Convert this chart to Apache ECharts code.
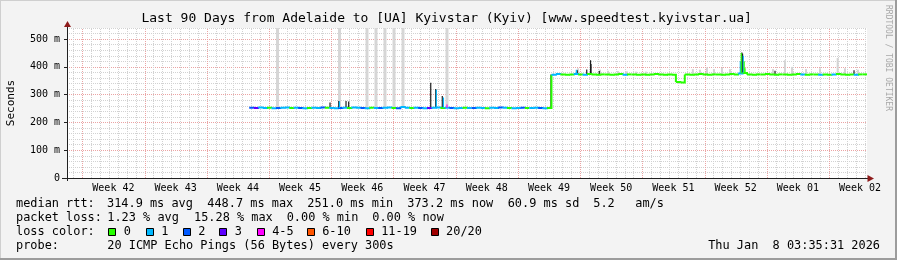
<!DOCTYPE html>
<html>
<head>
<meta charset="utf-8">
<script src="https://cdn.jsdelivr.net/npm/echarts@6/dist/echarts.min.js"></script>
<style>
html,body{margin:0;padding:0;background:#f3f3f3;}
#c{width:897px;height:260px;}
</style>
</head>
<body>
<div id="c"></div>
<script>
// ---------------- data ----------------
const titleText = 'Last 90 Days from Adelaide to [UA] Kyivstar (Kyiv) [www.speedtest.kyivstar.ua]';
const yAxisName = 'Seconds';
const weekLabels = ['Week 42','Week 43','Week 44','Week 45','Week 46','Week 47','Week 48','Week 49','Week 50','Week 51','Week 52','Week 01','Week 02'];
const firstWeekLineDay = 1.72;        // day (from left edge) of first week line
const xMaxDays = 90;
const yMaxMs = 540;
const yTickValues = [0, 100, 200, 300, 400, 500];

const medianStartDay = 20.5;
const medianStepDays = 0.5;
const median = [
  253,252,254,252,253,251,252,253,254,252,
  253,252,251,252,253,252,254,253,252,251,
  252,253,252,254,253,252,251,253,252,252,
  253,254,252,251,256,253,252,253,252,251,
  252,253,254,252,253,252,251,252,253,252,
  252,253,252,251,253,252,254,253,252,251,
  252,253,252,252,253,252,251,252,
  372,374,373,372,373,374,373,372,374,373,
  372,373,373,372,373,374,372,373,373,372,
  373,372,373,374,373,372,373,372,346,344,
  373,372,373,374,373,372,373,373,372,373,
  374,373,376,378,373,372,373,373,374,373,
  372,373,373,372,373,374,373,372,373,373,
  372,373,372,373,374,373,372,373,372,373,
  373
];
const loss = [
  2,3,1,1,0,1,2,1,1,0,
  1,2,1,0,1,1,2,0,1,1,
  2,1,0,1,1,2,1,0,1,2,
  1,1,0,2,1,1,0,1,2,1,
  3,1,1,0,1,2,1,1,0,1,
  2,1,1,0,1,1,2,1,0,1,
  1,2,0,1,1,2,1,0,
  1,1,0,0,0,1,0,1,0,0,
  0,0,0,0,0,0,1,0,0,0,
  0,0,0,0,0,0,0,0,0,0,
  0,0,0,0,0,0,0,0,0,0,
  0,0,1,0,0,0,0,0,0,0,
  0,0,0,0,0,0,1,0,0,0,
  1,0,0,1,0,0,0,0,1,0,
  0
];
const lossColors = ['#26ff00','#00b8ff','#0059ff','#5e00ff','#ff00ff','#ff5500','#ff0000','#a00000'];
const lossLabels = ['0','1','2','3','4-5','6-10','11-19','20/20'];

// smoke reaching past the top of the plot
const tallSmokeDay = [23.68, 30.66, 33.75, 34.76, 35.77, 36.79, 37.80, 42.75];
// lighter smoke above the median
const smokeDay = [57.49, 59.96, 60.86, 61.98, 62.99, 64.0, 65.12, 70.41, 71.2, 71.99, 72.78, 73.68, 74.58, 79.42, 80.77, 81.56, 83.14, 84.71, 86.7, 87.52, 88.98];
const smokeTop = [395, 390, 386, 385, 384, 383, 383, 392, 390, 398, 392, 396, 392, 392, 424, 400, 392, 395, 432, 395, 390];
// narrow spikes (colour index, -1 = dense dark smoke)
const spikeDay   = [29.59, 30.57, 30.65, 31.39, 31.69, 40.92, 41.48, 41.55, 42.22, 42.35, 42.75, 54.45, 57.3, 57.4, 58.47, 58.9, 58.95, 59.88, 75.75, 75.85, 75.92, 76.0, 76.08, 76.18, 76.28, 79.65, 88.54];
const spikeTop   = [272, 277, 276, 277, 275, 343, 320, 318, 295, 290, 265, 373, 390, 388, 391, 424, 410, 385, 420, 450, 452, 448, 440, 420, 395, 386, 388];
const spikeColor = [-1, -1, 1, -1, -1, -1, -1, 1, -1, 1, 4, -1, 1, -1, -1, -1, -1, -1, 1, 0, -1, -1, 1, 0, 0, -1, -1];

const statRows = [
  {y: 204,   items: [[16,'median rtt:'],[107,'314.9 ms avg'],[207.3,'448.7 ms max'],[307.3,'251.0 ms min'],[407.3,'373.2 ms now'],[507.7,'60.9 ms sd'],[593.3,'5.2'],[635.3,'am/s']]},
  {y: 218.3, items: [[16,'packet loss:'],[107.3,'1.23 % avg'],[194,'15.28 % max'],[286.7,'0.00 % min'],[372.3,'0.00 % now']]},
  {y: 232,   items: [[16,'loss color:']]},
  {y: 246.3, items: [[16,'probe:'],[107.3,'20 ICMP Echo Pings (56 Bytes) every 300s']]}
];
const lossBoxX = [108.3, 145.7, 182.7, 219.3, 256.7, 306.7, 365.7, 430.6];
const dateText = 'Thu Jan  8 03:35:31 2026';
const creditText = 'RRDTOOL / TOBI OETIKER';

// ---------------- chart ----------------
const MONO = '"DejaVu Sans Mono", monospace';
const LEG_FONT = '11.9px ' + MONO;
const G = {left: 67, top: 28, width: 800, height: 150};
const chart = echarts.init(document.getElementById('c'), null, {width: 897, height: 260});

function medianAt(d) {
  let i = Math.floor((d - medianStartDay) / medianStepDays);
  i = Math.max(0, Math.min(median.length - 1, i));
  return median[i];
}

const vLines = [];
for (let k = -1; firstWeekLineDay + k < xMaxDays; k++) {
  const d = firstWeekLineDay + k;
  if (d <= 0.05) continue;
  vLines.push([d, (k % 7 === 0) ? 1 : 0]);
}

const medianData = median.map((v, i) => [medianStartDay + i * medianStepDays, v, loss[i], i + 1 < median.length ? median[i + 1] : v]);
const weekData = weekLabels.map((l, i) => [firstWeekLineDay + 3.5 + 7 * i, 0, i]);

const option = {
  animation: false,
  backgroundColor: '#f3f3f3',
  grid: {left: G.left, top: G.top, width: G.width, height: G.height, show: true, backgroundColor: '#ffffff', borderWidth: 0,
         containLabel: false, outerBoundsMode: 'none'},
  xAxis: {
    type: 'value', min: 0, max: xMaxDays,
    axisLine: {show: false}, axisTick: {show: false}, axisLabel: {show: false}, splitLine: {show: false}
  },
  yAxis: [
    {
      type: 'value', position: 'left', min: 0, max: yMaxMs, interval: 20,
      axisLine: {show: false}, axisTick: {show: false}, axisLabel: {show: false},
      splitLine: {show: true, showMinLine: false, showMaxLine: true, lineStyle: {color: '#d2d2d2', width: 1, type: [1, 1]}}
    },
    {
      type: 'value', position: 'left', offset: 0, min: 0, max: yMaxMs, interval: 100,
      axisLine: {show: false},
      axisTick: {show: true, length: 3, inside: false, lineStyle: {color: '#202020'}},
      axisLabel: {
        show: true, showMaxLabel: false, margin: 7, color: '#000', fontFamily: MONO, fontSize: 10,
        formatter: v => (yTickValues.indexOf(v) < 0 ? '' : (v === 0 ? '0' : v + ' m'))
      },
      splitLine: {show: true, showMinLine: false, showMaxLine: false, lineStyle: {color: '#eba4a4', width: 1, type: [1, 1]}}
    }
  ],
  series: [
    {
      type: 'custom', name: 'vgrid', silent: true, z: 1,
      data: vLines,
      renderItem: (p, api) => {
        const d = api.value(0), m = api.value(1);
        const a = api.coord([d, 0]), b = api.coord([d, yMaxMs]);
        const x = Math.round(a[0]) + 0.5;
        return {type: 'line', shape: {x1: x, y1: a[1], x2: x, y2: b[1]},
          style: {stroke: m ? '#eba4a4' : '#d2d2d2', lineWidth: 1, lineDash: [1, 1]}};
      }
    },
    {
      type: 'custom', name: 'tallSmoke', silent: true, z: 2,
      data: tallSmokeDay.map(d => [d, yMaxMs]),
      renderItem: (p, api) => {
        const d = api.value(0);
        const a = api.coord([d, medianAt(d)]), b = api.coord([d, api.value(1)]);
        return {type: 'rect', shape: {x: a[0] - 1.5, y: b[1], width: 3, height: a[1] - b[1]}, style: {fill: '#d6d6d6'}};
      }
    },
    {
      type: 'custom', name: 'smoke', silent: true, z: 3,
      data: smokeDay.map((d, i) => [d, smokeTop[i]]),
      renderItem: (p, api) => {
        const d = api.value(0);
        const a = api.coord([d, medianAt(d)]), b = api.coord([d, api.value(1)]);
        return {type: 'rect', shape: {x: a[0] - 1, y: b[1], width: 2, height: a[1] - b[1]}, style: {fill: '#d4d4d4'}};
      }
    },
    {
      type: 'custom', name: 'darkSpikes', silent: true, z: 4,
      data: spikeDay.map((d, i) => [d, spikeTop[i], spikeColor[i]]).filter(r => r[2] < 0),
      renderItem: (p, api) => {
        const d = api.value(0);
        const a = api.coord([d, medianAt(d)]), b = api.coord([d, api.value(1)]);
        return {type: 'line', shape: {x1: a[0], y1: a[1], x2: b[0], y2: b[1]}, style: {stroke: '#1c1c1c', lineWidth: 1.2}};
      }
    },
    {
      type: 'custom', name: 'median', silent: true, z: 5,
      data: medianData,
      renderItem: (p, api) => {
        const t = api.value(0), v = api.value(1), li = api.value(2), nv = api.value(3);
        const pts = [api.coord([t, v]), api.coord([t + medianStepDays, v]), api.coord([t + medianStepDays, nv])];
        return {type: 'polyline', shape: {points: pts}, style: {stroke: lossColors[li], lineWidth: 2, fill: null}};
      }
    },
    {
      type: 'custom', name: 'colorSpikes', silent: true, z: 6,
      data: spikeDay.map((d, i) => [d, spikeTop[i], spikeColor[i]]).filter(r => r[2] >= 0),
      renderItem: (p, api) => {
        const d = api.value(0);
        const a = api.coord([d, medianAt(d)]), b = api.coord([d, api.value(1)]);
        return {type: 'line', shape: {x1: a[0], y1: a[1], x2: b[0], y2: b[1]}, style: {stroke: lossColors[api.value(2)], lineWidth: 1.2}};
      }
    },
    {
      type: 'custom', name: 'weeks', silent: true, z: 7, clip: false,
      data: weekData,
      renderItem: (p, api) => {
        const a = api.coord([api.value(0), 0]);
        return {type: 'text', x: a[0], y: a[1] + 10,
          style: {text: weekLabels[api.value(2)], font: '10px ' + MONO, fill: '#000', align: 'center', verticalAlign: 'middle'}};
      }
    }
  ],
  graphic: []
};

const gfx = [];
// frame
gfx.push({type: 'rect', shape: {x: 0, y: 0, width: 897, height: 260}, style: {fill: null, stroke: '#cfcfcf', lineWidth: 2}, silent: true, z: 0});
gfx.push({type: 'line', shape: {x1: 0, y1: 259, x2: 897, y2: 259}, style: {stroke: '#9c9c9c', lineWidth: 2}, silent: true});
gfx.push({type: 'line', shape: {x1: 896, y1: 0, x2: 896, y2: 260}, style: {stroke: '#9c9c9c', lineWidth: 2}, silent: true});
// title
gfx.push({type: 'text', x: 446.7, y: 19, style: {text: titleText, font: '13px ' + MONO, fill: '#000', align: 'center', verticalAlign: 'middle'}, silent: true});
// y axis name
gfx.push({type: 'text', x: 11, y: 103, rotation: Math.PI / 2, style: {text: yAxisName, font: '11px ' + MONO, fill: '#000', align: 'center', verticalAlign: 'middle'}, silent: true});
// credit
gfx.push({type: 'text', x: 888, y: 5, rotation: -Math.PI / 2, style: {text: creditText, font: '8px ' + MONO, fill: '#a8a8a8', align: 'left', verticalAlign: 'middle'}, silent: true});
// axes and arrows
gfx.push({type: 'line', shape: {x1: 62, y1: 178.5, x2: 868, y2: 178.5}, style: {stroke: '#202020', lineWidth: 1}, silent: true, z: 20});
gfx.push({type: 'line', shape: {x1: 67.5, y1: 181, x2: 67.5, y2: 25}, style: {stroke: '#202020', lineWidth: 1}, silent: true, z: 20});
gfx.push({type: 'polygon', shape: {points: [[67.5, 21], [64, 27], [71, 27]]}, style: {fill: '#8e1b1b'}, silent: true, z: 21});
gfx.push({type: 'polygon', shape: {points: [[874, 178.5], [867.5, 175], [867.5, 182]]}, style: {fill: '#8e1b1b'}, silent: true, z: 21});
// stats text
statRows.forEach(r => r.items.forEach(it => {
  gfx.push({type: 'text', x: it[0], y: r.y, style: {text: it[1], font: LEG_FONT, fill: '#000', align: 'left', verticalAlign: 'middle'}, silent: true});
}));
lossBoxX.forEach((bx, i) => {
  gfx.push({type: 'rect', shape: {x: Math.round(bx) + 0.5, y: 228.5, width: 7, height: 7}, style: {fill: lossColors[i], stroke: '#000', lineWidth: 1}, silent: true});
  gfx.push({type: 'text', x: bx + 15.5, y: 232, style: {text: lossLabels[i], font: LEG_FONT, fill: '#000', align: 'left', verticalAlign: 'middle'}, silent: true});
});
gfx.push({type: 'text', x: 880, y: 246.3, style: {text: dateText, font: LEG_FONT, fill: '#000', align: 'right', verticalAlign: 'middle'}, silent: true});
option.graphic = gfx;

chart.setOption(option);
</script>
</body>
</html>
